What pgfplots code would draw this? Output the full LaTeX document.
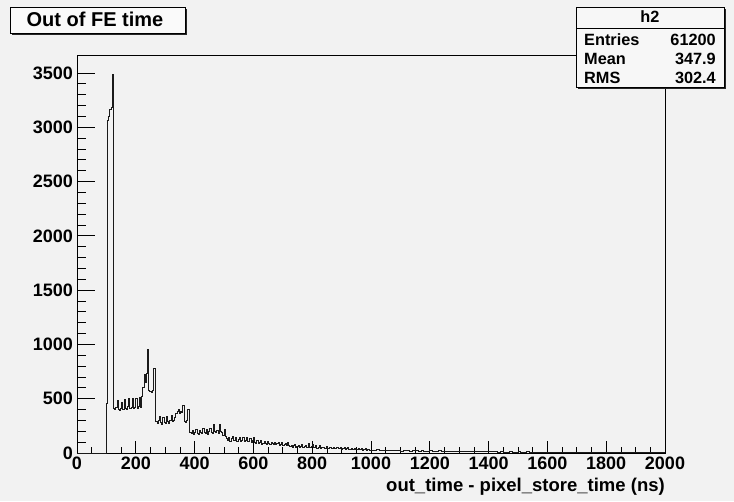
\documentclass[border=0pt]{standalone}
\usepackage{fontspec}
\setmainfont{Liberation Sans}
\usepackage{pgfplots}
\usepackage{pgfplotstable}
\pgfplotsset{compat=1.18}
\definecolor{bgc}{HTML}{F2F2F2}
\definecolor{histc}{HTML}{1A1A1A}
\pgfplotstableread{
x y
0 0
100 460
104 3060
108 3100
112 3160
116 3180
120 3490
124 410
128 400
132 420
136 480
140 400
144 390
148 410
152 470
156 400
160 490
164 410
168 400
172 430
176 500
180 410
184 420
188 500
192 410
196 420
200 500
204 410
208 430
212 510
216 420
220 520
224 600
228 720
232 650
236 730
240 950
244 580
248 570
252 560
256 580
260 780
264 780
268 290
272 270
276 300
280 340
284 280
288 260
292 330
296 280
300 270
304 340
308 290
312 270
316 300
320 350
324 290
328 300
332 330
336 360
340 380
344 400
348 360
352 380
356 370
360 440
364 290
368 280
372 300
376 400
380 400
384 190
388 180
392 210
396 170
400 190
404 220
408 180
412 170
416 210
420 190
424 180
428 230
432 190
436 180
440 220
444 170
448 200
452 230
456 190
460 180
464 260
468 200
472 190
476 210
480 180
484 260
488 200
492 190
496 160
500 220
504 150
508 130
512 120
516 140
520 110
524 130
528 150
532 115
536 120
540 145
544 110
548 125
552 140
556 105
560 115
564 140
568 110
572 120
576 140
580 105
584 110
588 135
592 100
596 120
600 140
604 100
608 90
612 120
616 85
620 95
624 115
628 80
632 90
636 110
640 85
644 80
648 105
652 90
656 75
660 100
664 85
668 80
672 100
676 75
680 85
684 100
688 70
692 80
696 95
700 70
704 75
708 90
712 65
716 100
720 70
724 60
728 70
732 55
736 65
740 80
744 55
748 60
752 70
756 50
760 60
764 75
768 55
772 60
776 70
780 50
784 55
788 90
792 50
796 60
800 75
804 50
808 55
812 65
816 45
820 55
824 70
828 45
832 50
836 50
840 40
844 45
848 60
852 40
856 45
860 55
864 38
868 45
872 55
876 40
880 42
884 52
888 38
892 40
896 55
900 36
904 40
908 50
912 35
916 38
920 48
924 34
928 36
932 46
936 32
940 36
944 44
948 30
952 34
956 42
960 30
964 32
968 40
972 28
976 30
980 38
984 28
988 30
992 36
996 26
1000 28
1010 22
1020 30
1030 24
1040 20
1050 27
1060 22
1070 19
1080 26
1090 21
1100 18
1110 25
1120 20
1130 17
1140 23
1150 19
1160 16
1170 22
1180 18
1190 15
1200 21
1210 17
1220 14
1230 20
1240 16
1250 13
1260 18
1270 15
1280 12
1290 17
1300 14
1310 11
1320 16
1330 13
1340 11
1350 15
1360 12
1370 10
1380 14
1390 11
1400 10
1410 13
1420 10
1430 9
1440 12
1450 9
1460 8
1470 11
1480 9
1490 7
1500 10
1510 8
1520 7
1530 10
1540 8
1550 6
1560 9
1570 7
1580 6
1590 8
1600 7
1610 5
1620 8
1630 6
1640 5
1650 7
1660 5
1670 4
1680 7
1690 5
1700 4
1710 6
1720 5
1730 4
1740 6
1750 4
1760 3
1770 5
1780 4
1790 3
1800 5
1810 4
1820 3
1830 5
1840 3
1850 3
1860 4
1870 3
1880 2
1890 4
1900 3
1910 2
1920 3
1930 2
1940 2
1950 3
1960 2
1970 1
1980 2
1990 2
2000 2
}\histdata
\begin{document}
\begin{tikzpicture}[x=1pt,y=1pt]
\fill[bgc] (0,0) rectangle (734,501);
\begin{axis}[
  at={(77pt,48pt)}, anchor=south west,
  scale only axis, width=588pt, height=398pt,
  xmin=0, xmax=2000, ymin=0, ymax=3665,
  axis line style={black, line width=0.8pt},
  xtick={0,200,...,2000}, minor x tick num=3,
  ytick={0,500,...,3500}, minor y tick num=4,
  tick align=inside,
  xtick pos=bottom, ytick pos=left,
  xtick style={black, line width=0.7pt, /pgfplots/major tick length=12pt, /pgfplots/minor tick length=6pt},
  ytick style={black, line width=0.7pt, /pgfplots/major tick length=17.6pt, /pgfplots/minor tick length=8.8pt},
  scaled ticks=false,
  /pgf/number format/1000 sep={},
  /pgf/number format/assume math mode=true,
  ticklabel style={font=\fontsize{18}{21}\selectfont\bfseries},
  yticklabel style={inner sep=4pt},
  xlabel={out\_time - pixel\_store\_time (ns)},
  xlabel style={at={(axis description cs:1,0)}, anchor=north east, yshift=-25pt, inner sep=0pt, font=\fontsize{18.5}{22}\selectfont\bfseries},
]
\addplot[const plot mark left, histc, line width=0.9pt] table[x=x,y=y]{\histdata};
\end{axis}
% title box
\fill[black!85] (12,466) rectangle (187,492);
\filldraw[fill=white!60!bgc, draw=black, line width=0.7pt] (10,468) rectangle (185,494);
\node[inner sep=0pt, text height=14pt, text depth=0pt, font=\fontsize{20}{24}\selectfont\bfseries] at (95,481) {Out of FE time};
% stats box
\fill[black!85] (578,412) rectangle (726,492);
\filldraw[fill=white!40!bgc, draw=black, line width=0.7pt] (576,414) rectangle (724,494);
\draw[black, line width=0.7pt] (576,473) -- (724,473);
\begin{scope}[every node/.style={inner sep=0pt, text height=11.5pt, text depth=0pt, font=\fontsize{16.3}{19}\selectfont\bfseries}]
\node at (650,484) {h2};
\node[anchor=west] at (584,461) {Entries};
\node[anchor=east] at (716,461) {61200};
\node[anchor=west] at (584,442) {Mean};
\node[anchor=east] at (716,442) {347.9};
\node[anchor=west] at (584,423) {RMS};
\node[anchor=east] at (716,423) {302.4};
\end{scope}
\pgfresetboundingbox
\useasboundingbox (0,0) rectangle (734,501);
\end{tikzpicture}
\end{document}
